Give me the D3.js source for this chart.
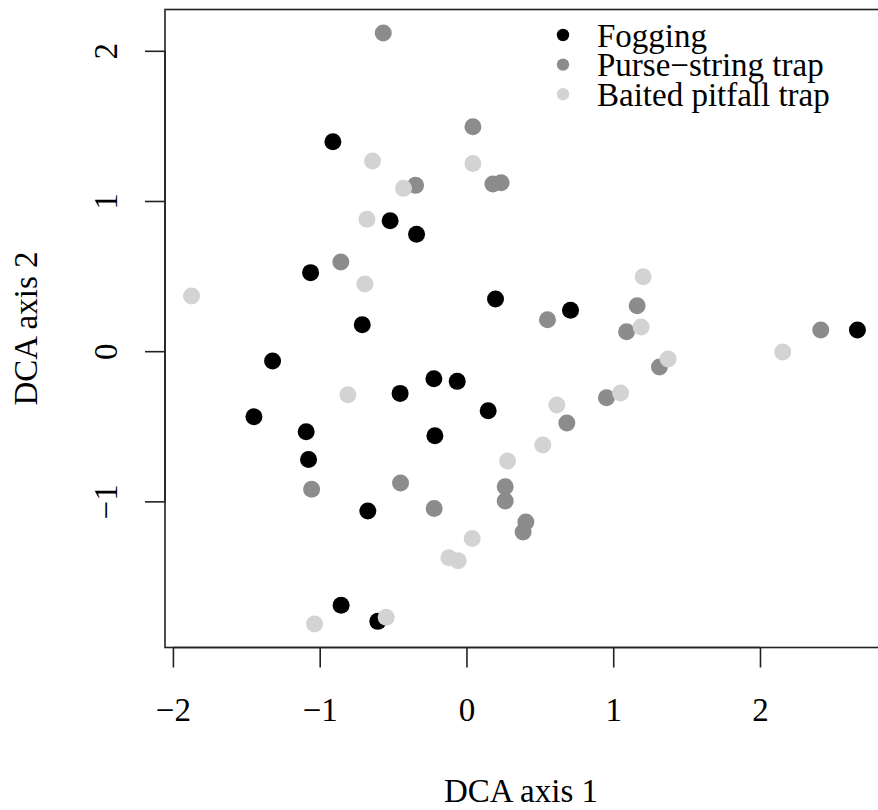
<!DOCTYPE html>
<html>
<head>
<meta charset="utf-8">
<script src="https://cdn.jsdelivr.net/npm/d3@7"></script>
<style>
  html, body { margin: 0; padding: 0; background: #fff; }
  svg { display: block; }
  text { font-family: "Liberation Serif", "DejaVu Serif", serif; fill: #000; }
</style>
</head>
<body>
<svg id="chart" width="878" height="810"></svg>
<script>
// ---- Data ----
const seriesNames = ["Fogging", "Purse\u2212string trap", "Baited pitfall trap"];
const seriesColors = ["#000000", "#8c8c8c", "#d3d3d3"];

const foggingX = [-0.910, -0.520, -0.340, -1.062, 0.198, 0.709, -0.710, -1.321, -0.222, -0.063,
                  0.148, -0.215, -0.452, -1.448, -1.092, -1.076, -0.672, -0.854, -0.604, 2.664];
const foggingY = [1.394, 0.869, 0.778, 0.523, 0.347, 0.272, 0.176, -0.065, -0.183, -0.201,
                  -0.396, -0.563, -0.281, -0.436, -0.536, -0.722, -1.064, -1.692, -1.799, 0.141];

const purseX = [-0.567, 0.044, -0.347, 0.180, 0.236, -0.856, 0.552, 1.163, 1.091, 1.315,
                0.954, 0.684, 0.264, 0.264, 0.405, 0.386, -0.220, -1.055, -0.449, 2.414];
const purseY = [2.118, 1.495, 1.104, 1.113, 1.122, 0.594, 0.210, 0.303, 0.130, -0.105,
                -0.310, -0.478, -0.902, -0.997, -1.137, -1.204, -1.047, -0.920, -0.878, 0.141];

const baitedX = [-0.640, 0.044, -0.429, -0.678, -0.692, -1.873, 1.204, 1.190, 1.374, 1.050,
                 0.616, 0.520, 0.280, 0.039, -0.120, -0.056, -0.808, -1.035, -0.547, 2.155];
const baitedY = [1.266, 1.250, 1.084, 0.878, 0.447, 0.367, 0.496, 0.161, -0.052, -0.278,
                 -0.358, -0.625, -0.731, -1.248, -1.375, -1.395, -0.290, -1.816, -1.772, -0.005];

const xTicks = [-2, -1, 0, 1, 2];
const yTicks = [-1, 0, 1, 2];
const xTitle = "DCA axis 1";
const yTitle = "DCA axis 2";

// ---- Build ----
const series = [
  {name: seriesNames[0], color: seriesColors[0], xs: foggingX, ys: foggingY},
  {name: seriesNames[1], color: seriesColors[1], xs: purseX, ys: purseY},
  {name: seriesNames[2], color: seriesColors[2], xs: baitedX, ys: baitedY}
];

const svg = d3.select("#chart");
const plotL = 165, plotR = 884, plotT = 9.5, plotB = 647.5;

const x = d3.scaleLinear().domain([-2.054, 2.845]).range([plotL, plotR]);
const y = d3.scaleLinear().domain([-1.973, 2.275]).range([plotB, plotT]);

const fmt = d => d < 0 ? "\u2212" + Math.abs(d) : String(d);
const FS = 33;

// Points
series.forEach(s => {
  const pts = s.xs.map((v, i) => ({x: v, y: s.ys[i]}));
  svg.append("g").selectAll("circle").data(pts).join("circle")
    .attr("cx", d => x(d.x)).attr("cy", d => y(d.y))
    .attr("r", 8.5).attr("fill", s.color);
});

// Box
svg.append("rect")
  .attr("x", plotL).attr("y", plotT)
  .attr("width", plotR - plotL).attr("height", plotB - plotT)
  .attr("fill", "none").attr("stroke", "#222").attr("stroke-width", 1.6);

// X axis
const xAxis = d3.axisBottom(x).tickValues(xTicks).tickSize(20).tickFormat(fmt);
const gx = svg.append("g").attr("transform", `translate(0,${plotB})`).call(xAxis);
gx.select(".domain").attr("d", `M${x(-2)},0H${x(2)}`).attr("stroke", "#222").attr("stroke-width", 1.6);
gx.selectAll(".tick line").attr("stroke", "#222").attr("stroke-width", 1.6);
gx.selectAll(".tick text")
  .attr("y", 0).attr("dy", null)
  .attr("transform", "translate(0,73.5)")
  .style("font-family", "Liberation Serif").style("font-size", FS + "px")
  .attr("fill", "#000");

// Y axis
const yAxis = d3.axisLeft(y).tickValues(yTicks).tickSize(20).tickFormat(fmt);
const gy = svg.append("g").attr("transform", `translate(${plotL},0)`).call(yAxis);
gy.select(".domain").attr("d", `M0,${y(-1)}V${y(2)}`).attr("stroke", "#222").attr("stroke-width", 1.6);
gy.selectAll(".tick line").attr("stroke", "#222").attr("stroke-width", 1.6);
gy.selectAll(".tick text")
  .attr("x", null).attr("dy", null).attr("y", null)
  .attr("text-anchor", "middle")
  .attr("transform", "translate(-48,0) rotate(-90)")
  .style("font-family", "Liberation Serif").style("font-size", FS + "px")
  .attr("fill", "#000");

// Axis titles
svg.append("text")
  .attr("x", (plotL + 877) / 2).attr("y", 801.5)
  .attr("text-anchor", "middle").style("font-size", FS + "px")
  .text(xTitle);
svg.append("text")
  .attr("transform", `translate(36.5,${(plotT + plotB) / 2}) rotate(-90)`)
  .attr("text-anchor", "middle").style("font-size", FS + "px")
  .text(yTitle);

// Legend
const lg = svg.append("g");
series.forEach((s, i) => {
  const cy = 35 + i * 29.6;
  lg.append("circle").attr("cx", 563).attr("cy", cy).attr("r", 6.2).attr("fill", s.color);
  lg.append("text").attr("x", 597).attr("y", cy + 11.5)
    .style("font-size", FS + "px").text(s.name);
});
</script>
</body>
</html>
